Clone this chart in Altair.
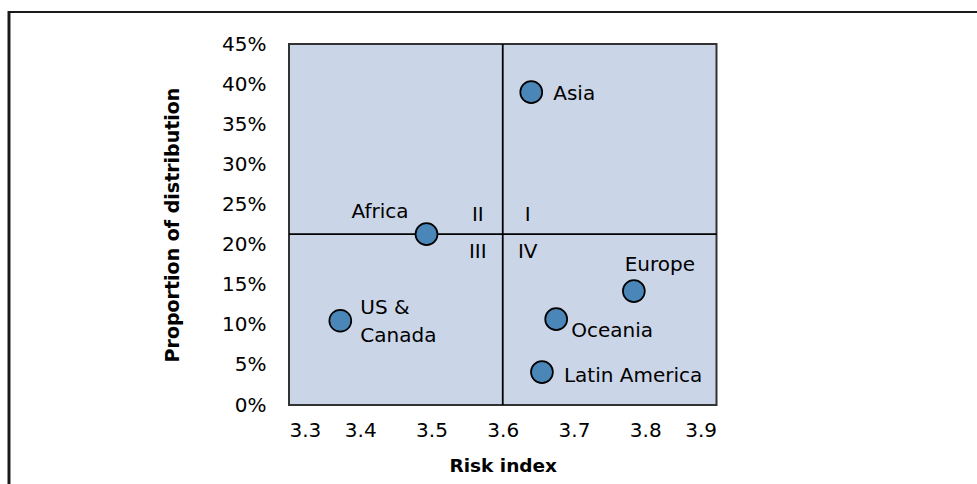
import altair as alt
import pandas as pd

# Regional risk vs. share of distribution
regions = ["Asia", "Africa", "US & Canada", "Europe", "Oceania", "Latin America"]
risk_index = [3.64, 3.493, 3.372, 3.784, 3.675, 3.655]
proportion = [0.390, 0.213, 0.105, 0.142, 0.107, 0.041]

# Quadrant split values and quadrant names
risk_split = 3.6
proportion_split = 0.213
quadrant_names = ["I", "II", "III", "IV"]
quadrant_risk = [3.635, 3.565, 3.565, 3.635]
quadrant_prop = [0.237, 0.237, 0.191, 0.191]

FONT = "DejaVu Sans"
TEXT_SIZE = 20

points = pd.DataFrame({"region": regions, "risk": risk_index, "prop": proportion})
quads = pd.DataFrame({"name": quadrant_names, "risk": quadrant_risk, "prop": quadrant_prop})

x_scale = alt.Scale(domain=[3.3, 3.9], nice=False, zero=False)
y_scale = alt.Scale(domain=[0, 0.45], nice=False)

x_enc = alt.X("risk:Q", scale=x_scale, title="Risk index",
              axis=alt.Axis(values=[3.3, 3.4, 3.5, 3.6, 3.7, 3.8, 3.9], format=".1f",
                            grid=False, ticks=False, domain=False,
                            labelFontSize=TEXT_SIZE, labelPadding=15,
                            titleFontSize=18.5, titleFontWeight="bold", titlePadding=16))
y_enc = alt.Y("prop:Q", scale=y_scale, title="Proportion of distribution",
              axis=alt.Axis(values=[i * 0.05 for i in range(10)], format=".0%",
                            grid=False, ticks=False, domain=False,
                            labelFontSize=TEXT_SIZE, labelPadding=23,
                            titleFontSize=19, titleFontWeight="bold", titlePadding=39))

base = alt.Chart(points)

split_v = alt.Chart(pd.DataFrame({"risk": [risk_split]})).mark_rule(
    color="black", strokeWidth=1.8).encode(x=alt.X("risk:Q", scale=x_scale))
split_h = alt.Chart(pd.DataFrame({"prop": [proportion_split]})).mark_rule(
    color="black", strokeWidth=1.8).encode(y=alt.Y("prop:Q", scale=y_scale))

dots = base.mark_point(filled=True, fill="#4a86b8", stroke="black", strokeWidth=1.7,
                       size=480, opacity=1, shape="circle").encode(x=x_enc, y=y_enc)


def label(name, align, dx, dy, text=None):
    return base.transform_filter(alt.datum.region == name).mark_text(
        font=FONT, fontSize=TEXT_SIZE, color="black", align=align, baseline="middle",
        dx=dx, dy=dy, lineBreak="\n", lineHeight=28,
    ).encode(x="risk:Q", y="prop:Q",
             text=alt.value(text if text is not None else name))


labels = [
    label("Asia", "left", 22, 2),
    label("Africa", "right", -18, -22),
    label("US & Canada", "left", 20, -13, "US &\nCanada"),
    label("Europe", "center", 26, -26),
    label("Oceania", "left", 15, 12),
    label("Latin America", "left", 22, 4),
]

quad_text = alt.Chart(quads).mark_text(
    font=FONT, fontSize=TEXT_SIZE, color="black", align="center", baseline="middle"
).encode(x=alt.X("risk:Q", scale=x_scale), y=alt.Y("prop:Q", scale=y_scale), text="name:N")

# Outer frame line along the top and left edges of the figure
frame_top = alt.Chart(points).mark_rule(color="#1a1a1a", strokeWidth=2.2).encode(
    x=alt.value(-280), x2=alt.value(720), y=alt.value(-32))
frame_left = alt.Chart(points).mark_rule(color="#1a1a1a", strokeWidth=2.2).encode(
    x=alt.value(-280), y=alt.value(-33), y2=alt.value(460))

chart = alt.layer(
    split_v, split_h, dots, quad_text, *labels, frame_top, frame_left
).properties(
    width=427.5, height=361,
    autosize=alt.AutoSizeParams(type="none"),
    padding={"left": 289, "top": 44, "right": 260.5, "bottom": 79},
).configure(
    font=FONT,
).configure_view(
    fill="#cad5e7", stroke="#333333", strokeWidth=2,
).configure_axis(
    labelColor="black", titleColor="black", labelFont=FONT, titleFont=FONT,
)

chart.save("out.html", embed_options={"renderer": "svg", "actions": False})
